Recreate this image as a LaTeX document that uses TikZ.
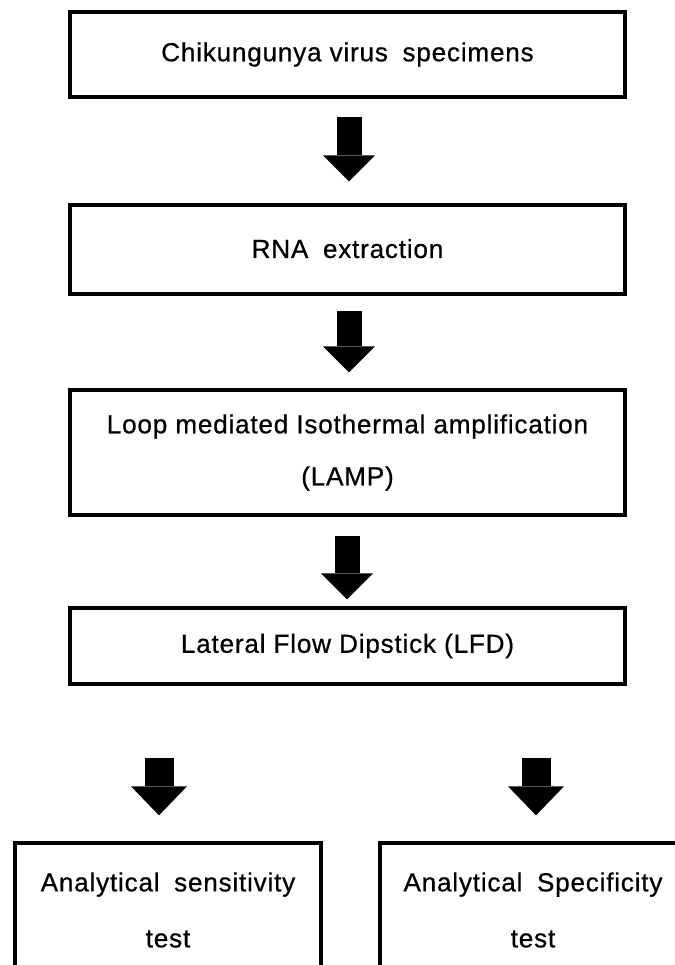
\documentclass[tikz,border=0pt]{standalone}
\usepackage{fontspec}
\setmainfont{Liberation Sans}[LetterSpace=3,FakeBold=0.6]
\usetikzlibrary{arrows.meta}
\begin{document}
\begin{tikzpicture}[x=0.75pt,y=-0.75pt,
  box/.style={draw=black, line width=2.5pt, fill=white, align=center, inner sep=0pt,
    font=\fontsize{19.6pt}{23pt}\selectfont},
  mainbox/.style={box, minimum width=416.25pt},
  sidebox/.style={box, minimum width=229.5pt, minimum height=100.5pt,
    font=\fontsize{19.6pt}{42pt}\selectfont},
  bigarrow/.style={draw=black, line width=18.75pt,
    -{Triangle[length=19.5pt,width=39pt,line width=0pt]}},
  sidearrow/.style={draw=black, line width=21.75pt,
    -{Triangle[length=21.75pt,width=42pt,line width=0pt]}}]
\useasboundingbox (0,0) rectangle (675,965);
\clip (0,0) rectangle (675,965);

\node[mainbox, minimum height=63.75pt] (b1) at (347.5,54.5) {\raisebox{3pt}{Chikungunya virus\hspace{0.25em} specimens}};
\node[mainbox, minimum height=66.75pt] (b2) at (347.5,249.5) {\raisebox{1.5pt}{RNA\hspace{0.25em} extraction}};
\node[mainbox, minimum height=93.75pt, font=\fontsize{19.6pt}{39pt}\selectfont] (b3) at (347.5,452.5)
  {Loop mediated Isothermal amplification\\(LAMP)};
\node[mainbox, minimum height=57pt] (b4) at (347.5,646) {Lateral Flow Dipstick (LFD)};

\node[sidebox] (bl) at (168,910) {Analytical\hspace{0.25em} sensitivity\\test};
\node[sidebox] (br) at (533,910) {Analytical\hspace{0.25em} Specificity\\test};

\draw[bigarrow, shorten <=13.5pt, shorten >=16.5pt] (b1.south -| 349,0) -- (b2.north -| 349,0);
\draw[bigarrow, shorten <=11.25pt, shorten >=12pt] (b2.south -| 349,0) -- (b3.north -| 349,0);
\draw[bigarrow, shorten <=14.25pt, shorten >=5.25pt] (b3.south -| 347,0) -- (b4.north -| 347,0);

\coordinate (cl) at (159,758);
\coordinate (cr) at (536,758);
\draw[sidearrow, shorten >=19.5pt] (cl) -- (cl |- bl.north);
\draw[sidearrow, shorten >=19.5pt] (cr) -- (cr |- br.north);
\end{tikzpicture}
\end{document}
